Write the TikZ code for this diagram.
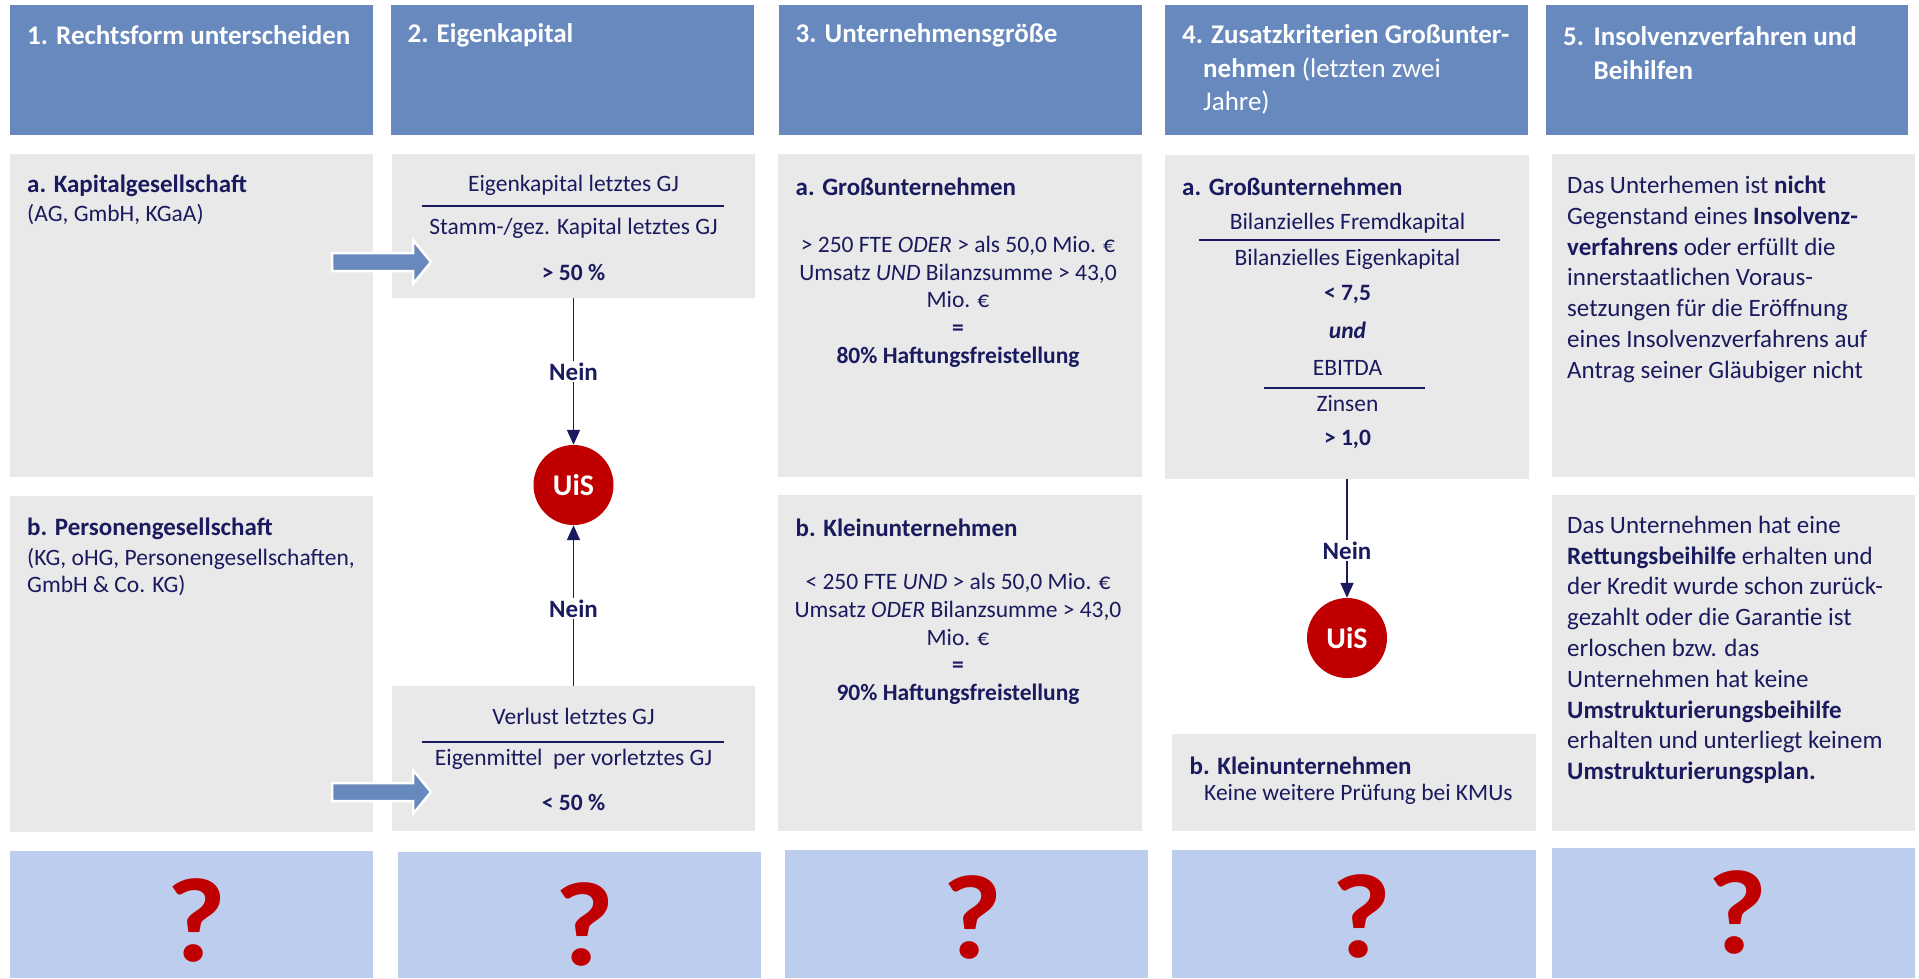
\documentclass[tikz,border=0pt]{standalone}
\usepackage{fontspec}
\setmainfont{Carlito}
\usetikzlibrary{arrows.meta,fit}

\definecolor{headblue}{RGB}{103,137,190}
\definecolor{boxgray}{RGB}{233,233,233}
\definecolor{qblue}{RGB}{189,205,237}
\definecolor{navy}{RGB}{26,26,94}
\definecolor{uisred}{RGB}{192,0,0}

\tikzset{
    head/.style={fill=headblue, inner sep=0pt},
    panel/.style={fill=boxgray, inner sep=0pt},
    qpanel/.style={fill=qblue, inner sep=0pt},
    headtxt/.style={anchor=west, align=left, text=white, inner sep=0pt,
        font=\fontsize{27}{33.5}\selectfont\bfseries},
    body/.style={text=navy, inner sep=0pt, font=\fontsize{23.5}{27.7}\selectfont},
    bodyb/.style={body, font=\fontsize{23.5}{27.7}\selectfont\bfseries},
    subhead/.style={anchor=west, text=navy, inner sep=0pt,
        font=\fontsize{25}{29}\selectfont\bfseries},
    longtxt/.style={anchor=west, align=left, text=navy, inner sep=0pt,
        font=\fontsize{25}{30.8}\selectfont},
    uis/.style={circle, fill=uisred, minimum size=80pt, inner sep=0pt,
        text=white, font=\fontsize{30}{30}\selectfont\bfseries},
    conn/.style={draw=navy, line width=1.8pt, -{Triangle[length=15pt,width=13pt]}},
    nein/.style={fill=white, inner sep=1.5pt, text=navy,
        font=\fontsize{25}{25}\selectfont\bfseries},
    rule/.style={draw=navy, line width=1.4pt},
    blockarrow/.style={fill=headblue, draw=white, line width=2.5pt},
    qmark/.style={text=uisred, inner sep=0pt, xscale=2.16, yscale=2,
        font=\fontsize{60}{60}\selectfont\bfseries},
}

\begin{document}
\begin{tikzpicture}[x=1pt,y=-1pt]
    \useasboundingbox (0,0) rectangle (1919,978);

    % Header row
    \foreach \i/\xa/\xb in {1/10/373, 2/391/754, 3/779/1142, 4/1165/1528, 5/1546/1908} {
        \node[head, fit={(\xa,5) (\xb,135)}] (h\i) {};
    }
    \node[headtxt] (h1t) at (27,35.5) {1. Rechtsform unterscheiden};
    \node[headtxt] (h2t) at (407.5,35.5) {2. Eigenkapital};
    \node[headtxt] (h3t) at (795.5,35.5) {3. Unternehmensgröße};
    \node[headtxt] (h4t) at (1182,69.5) {4. Zusatzkriterien Großunter-\\
        \hspace*{21pt}nehmen \textmd{(letzten zwei}\\\hspace*{21pt}\textmd{Jahre)}};
    \node[headtxt] (h5t) at (1563,53) {5.\hspace{9.5pt}Insolvenzverfahren und\\
        \hspace*{30.5pt}Beihilfen};

    % Gray panels
    \node[panel, fit={(10,154) (373,477)}] (kapges) {};
    \node[panel, fit={(10,496) (373,832)}] (perges) {};
    \node[panel, fit={(392,154) (755,298)}] (ekquote) {};
    \node[panel, fit={(392,686) (755,831)}] (verlquote) {};
    \node[panel, fit={(778,154) (1142,477)}] (grossu) {};
    \node[panel, fit={(778,495) (1142,831)}] (kleinu) {};
    \node[panel, fit={(1165,155) (1529,479)}] (zusatz) {};
    \node[panel, fit={(1172,734) (1536,831)}] (kmu) {};
    \node[panel, fit={(1552,154) (1915,477)}] (insolv) {};
    \node[panel, fit={(1552,495) (1915,831)}] (beihilfe) {};

    % 1. Rechtsform
    \node[subhead] (kapgesT) at (27,186) {a. Kapitalgesellschaft};
    \node[body, anchor=west] (kapgesB) at (27,215) {(AG, GmbH, KGaA)};
    \node[subhead] (pergesT) at (27,529) {b. Personengesellschaft};
    \node[body, anchor=west, align=left] (pergesB) at (27,572)
        {(KG, oHG, Personengesellschaften,\\GmbH \& Co. KG)};

    % block arrows into column 2
    \foreach \y in {262,792} {
        \draw[blockarrow] (332,\y-9) -- (413,\y-9) -- (413,\y-22) -- (431,\y)
            -- (413,\y+22) -- (413,\y+9) -- (332,\y+9) -- cycle;
    }

    % 2. Eigenkapital
    \node[body] (ekZ) at (573.5,185) {Eigenkapital letztes GJ};
    \draw[rule] (422,206) -- (724,206);
    \node[body] (ekN) at (573.5,228) {Stamm-/gez. Kapital letztes GJ};
    \node[bodyb] (ekW) at (573.5,272) {> 50 \%};
    \node[body] (verlZ) at (573.5,716) {Verlust letztes GJ};
    \draw[rule] (422,742) -- (724,742);
    \node[body] (verlN) at (573.5,759) {Eigenmittel\ \ per vorletztes GJ};
    \node[bodyb] (verlW) at (573.5,802) {< 50 \%};

    \node[uis] (uis1) at (573.5,485) {UiS};
    \draw[conn] (ekquote) -- node[nein] {Nein} (uis1);
    \draw[conn] (verlquote) -- node[nein, pos=0.48] {Nein} (uis1);

    % 3. Unternehmensgroesse
    \node[subhead] (grossuT) at (795.5,186.7) {a. Großunternehmen};
    \node[body, align=center] (grossuB) at (958,301.7)
        {> 250 FTE \textit{ODER} > als 50,0 Mio. €\\Umsatz \textit{UND} Bilanzsumme > 43,0\\
        Mio. €\\\textbf{=}\\\textbf{80\% Haftungsfreistellung}};
    \node[subhead] (kleinuT) at (795.5,528) {b. Kleinunternehmen};
    \node[body, align=center] (kleinuB) at (958,639)
        {< 250 FTE \textit{UND} > als 50,0 Mio. €\\Umsatz \textit{ODER} Bilanzsumme > 43,0\\
        Mio. €\\\textbf{=}\\\textbf{90\% Haftungsfreistellung}};

    % 4. Zusatzkriterien
    \node[subhead] (zusatzT) at (1182,186.7) {a. Großunternehmen};
    \node[body] (fkZ) at (1347.5,223) {Bilanzielles Fremdkapital};
    \draw[rule] (1199,240) -- (1500,240);
    \node[body] (fkN) at (1347.5,259) {Bilanzielles Eigenkapital};
    \node[bodyb] (fkW) at (1347.5,294) {< 7,5};
    \node[bodyb] (und) at (1347.5,330.7) {\textit{und}};
    \node[body] (ebZ) at (1347.5,367.7) {EBITDA};
    \draw[rule] (1264,388) -- (1425,388);
    \node[body] (ebN) at (1347.5,403) {Zinsen};
    \node[bodyb] (ebW) at (1347.5,439) {> 1,0};

    \node[uis] (uis2) at (1347,638) {UiS};
    \draw[conn] (zusatz) -- node[nein, pos=0.6] {Nein} (uis2);

    \node[subhead] (kmuT) at (1189.5,766) {b. Kleinunternehmen};
    \node[body, anchor=west] (kmuB) at (1204,794) {Keine weitere Prüfung bei KMUs};

    % 5. Insolvenz und Beihilfen
    \node[longtxt] (insolvT) at (1567,279.2) {Das Unterhemen ist \textbf{nicht}\\
        Gegenstand eines \textbf{Insolvenz-}\\\textbf{verfahrens} oder erfüllt die\\
        innerstaatlichen Voraus-\\setzungen für die Eröffnung\\
        eines Insolvenzverfahrens auf\\Antrag seiner Gläubiger nicht};
    \node[longtxt] (beihilfeT) at (1567,650) {Das Unternehmen hat eine\\
        \textbf{Rettungsbeihilfe} erhalten und\\der Kredit wurde schon zurück-\\
        gezahlt oder die Garantie ist\\erloschen bzw. das\\Unternehmen hat keine\\
        \textbf{Umstrukturierungsbeihilfe}\\erhalten und unterliegt keinem\\
        \textbf{Umstrukturierungsplan.}};

    % Bottom row
    \foreach \i/\xa/\xb/\ya/\qx/\qy in {1/10/373/851/196.5/920, 2/398/761/852/585/924,
            3/785/1148/850/973/917, 4/1172/1536/850/1362/916, 5/1552/1915/848/1738/912} {
        \node[qpanel, fit={(\xa,\ya) (\xb,978)}] (qb\i) {};
        \node[qmark] (q\i) at (\qx,\qy) {?};
    }
\end{tikzpicture}
\end{document}
